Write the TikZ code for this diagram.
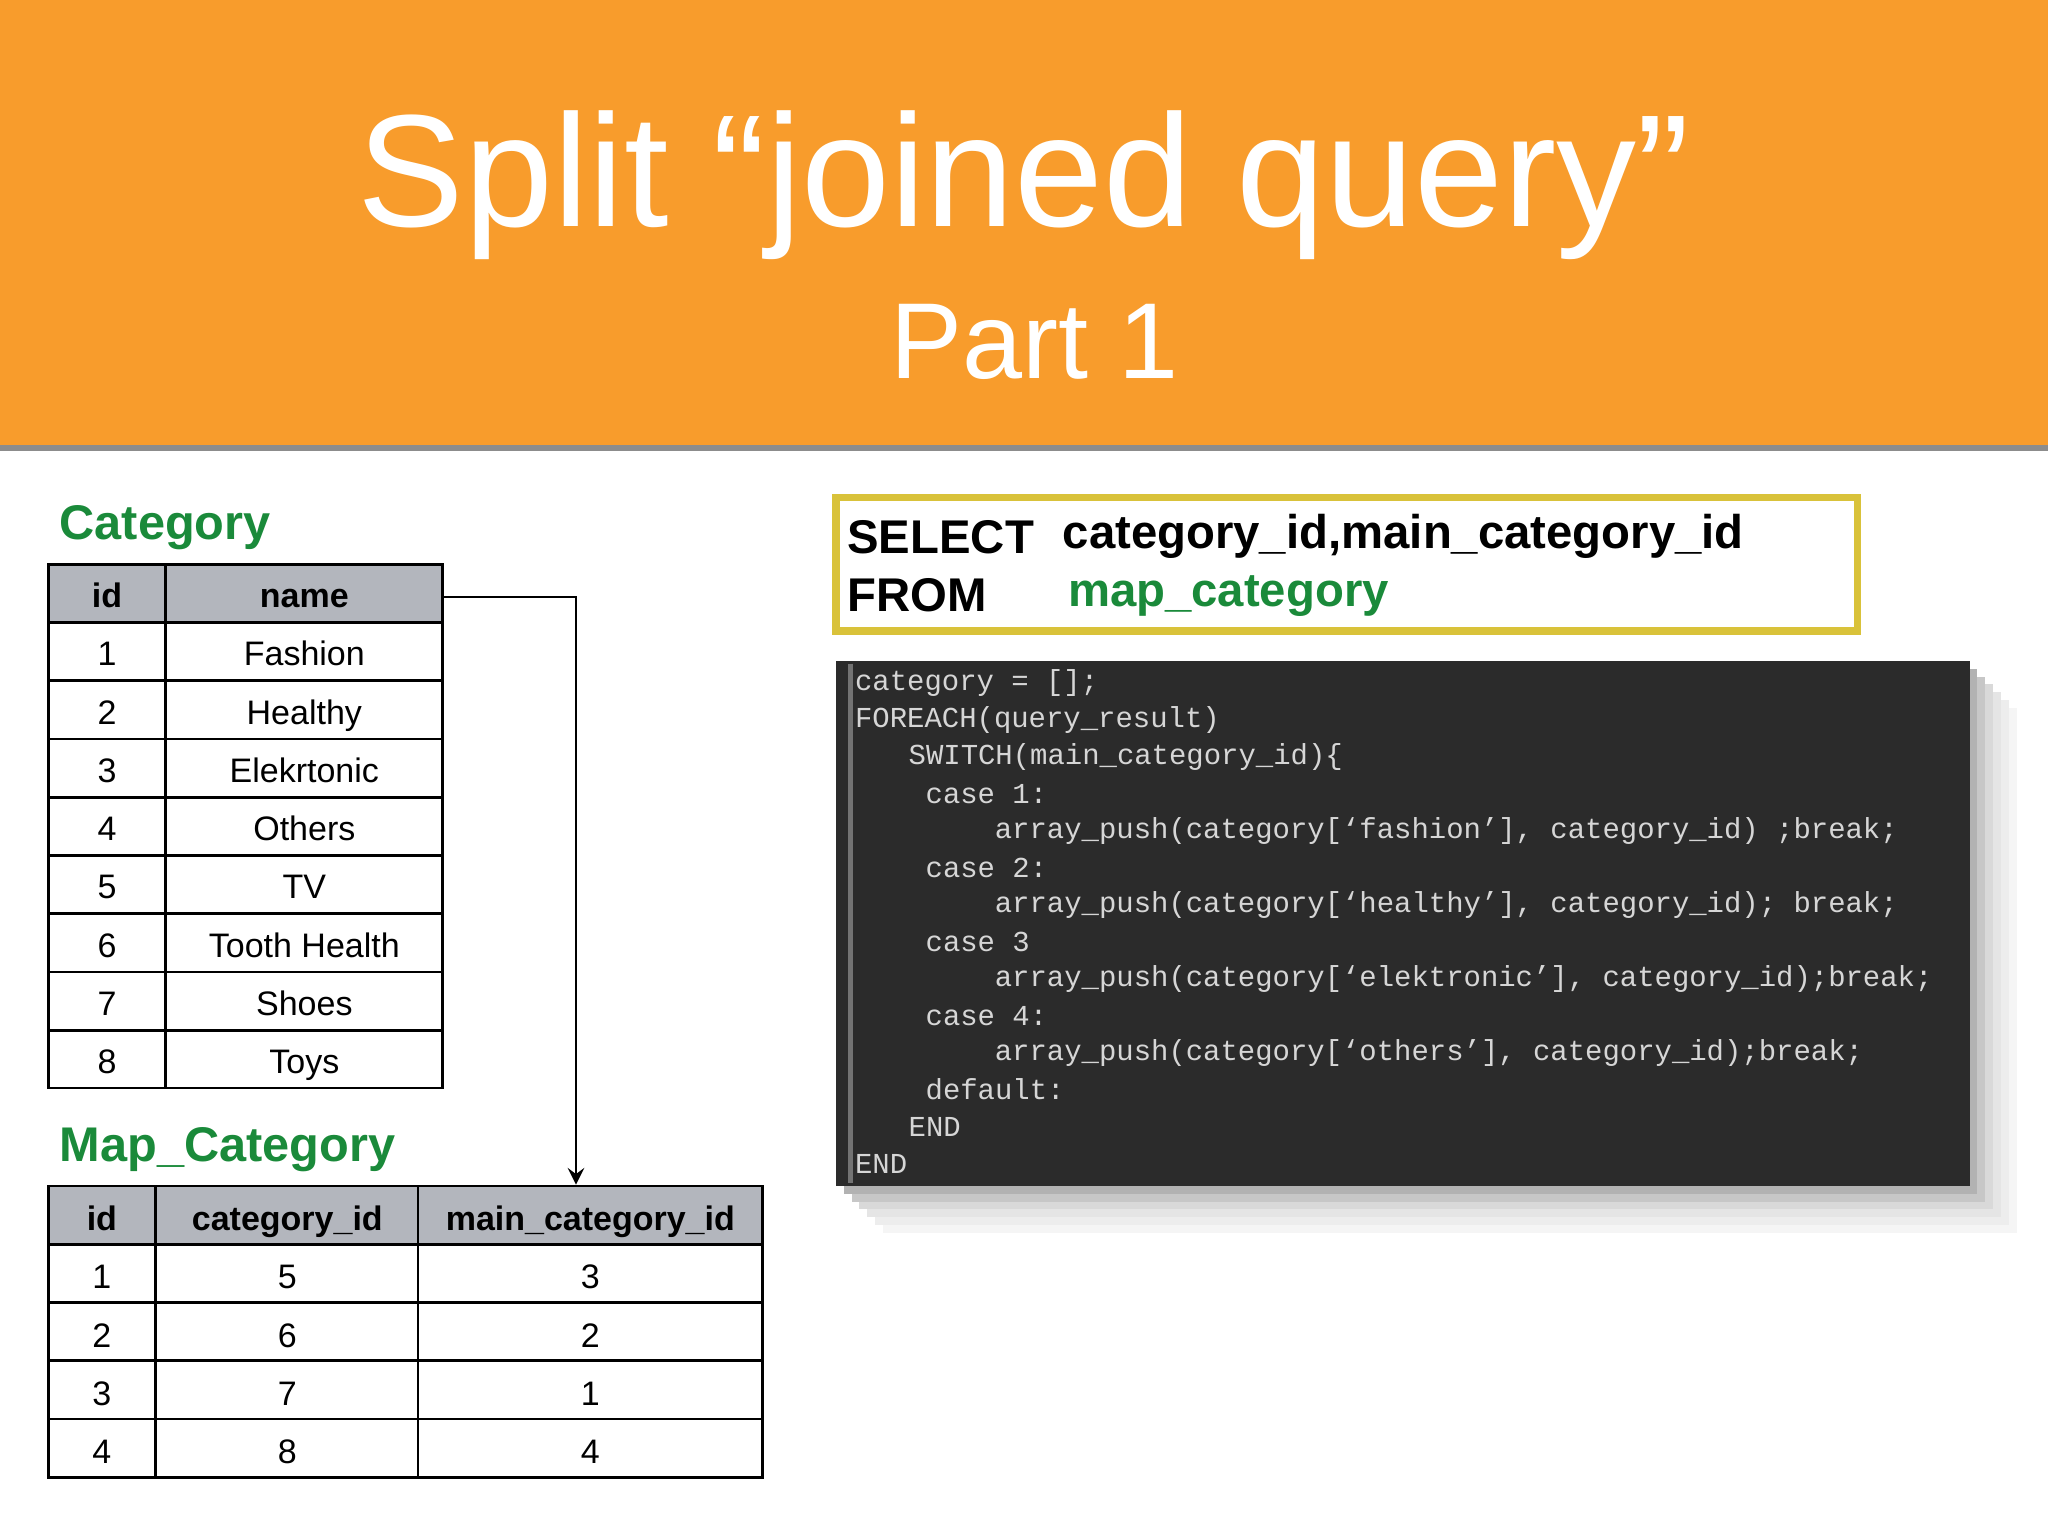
\documentclass[tikz,border=0pt]{standalone}
\usepackage{fontspec}
\setmainfont{Liberation Sans}
\setmonofont{Liberation Mono}
\definecolor{banner}{HTML}{F89C2C}
\definecolor{headgreen}{HTML}{1A8A3A}
\definecolor{headgray}{HTML}{B3B6BD}
\definecolor{sqlframe}{HTML}{D9C23A}
\definecolor{codebg}{HTML}{2B2B2B}
\definecolor{codefg}{HTML}{D6D6D6}
\tikzset{
  cell/.style={font=\fontsize{7.4pt}{8pt}\selectfont, anchor=center, text height=1.6ex, text depth=0.4ex},
  headcell/.style={cell, font=\fontsize{7.4pt}{8pt}\selectfont\bfseries},
  tabletitle/.style={anchor=west, inner sep=0pt, text=headgreen, font=\fontsize{10.6pt}{12pt}\selectfont\bfseries},
  sqltext/.style={anchor=west, inner sep=0pt, font=\fontsize{10.3pt}{12pt}\selectfont\bfseries},
  codeline/.style={anchor=west, text=codefg, inner sep=0pt, font=\fontsize{6.3pt}{7pt}\selectfont\ttfamily}
}
\begin{document}
\begin{tikzpicture}[x=0.01cm,y=-0.01cm]
        \useasboundingbox (0,0) rectangle (1568,1176);

        % Banner
        \fill[black!45] (0,338) rectangle (1568,345);
        \fill[banner] (0,0) rectangle (1568,341);
        \node[text=white, font=\fontsize{34.8pt}{38pt}\selectfont] (title) at (784,142) {Split “joined query”};
        \node[text=white, font=\fontsize{23.5pt}{26pt}\selectfont] (part) at (792,262) {Part 1};

        % Category table
        \node[tabletitle] (cattitle) at (45,404) {Category};
        \fill[headgray] (37,432) rectangle (339,476.6);
        \node[headcell] (cath1) at (82,454) {id};
        \node[headcell] (cath2) at (233,454) {name};
        \foreach \name [count=\i] in {Fashion,Healthy,Elekrtonic,Others,TV,Tooth Health,Shoes,Toys} {
            \node[cell] (cid\i) at (82,{454+44.6*\i}) {\i};
            \node[cell] (cname\i) at (233,{454+44.6*\i}) {\name};
        }
        \foreach \i in {1,...,8} \draw[semithick] (37,{432+44.6*\i}) -- (339,{432+44.6*\i});
        \draw[semithick] (37,432) rectangle (339,833) (127,432) -- (127,833);

        % Map_Category table
        \node[tabletitle] (maptitle) at (45,880) {Map\_Category};
        \fill[headgray] (37,908) rectangle (584,952.6);
        \node[headcell] (maph1) at (78,931) {id};
        \node[headcell] (maph2) at (220,931) {category\_id};
        \node[headcell] (maph3) at (452,931) {main\_category\_id};
        \foreach \c/\m [count=\i] in {5/3,6/2,7/1,8/4} {
            \node[cell] (mid\i) at (78,{931+44.6*\i}) {\i};
            \node[cell] (mcat\i) at (220,{931+44.6*\i}) {\c};
            \node[cell] (mmain\i) at (452,{931+44.6*\i}) {\m};
        }
        \foreach \i in {1,...,4} \draw[semithick] (37,{908+44.6*\i}) -- (584,{908+44.6*\i});
        \draw[semithick] (37,908) rectangle (584,1131) (119,908) -- (119,1131) (320,908) -- (320,1131);

        % Arrow between tables
        \coordinate (start) at (339,457);
        \coordinate (bend) at (441,457);
        \coordinate (maptop) at (441,907);
        \draw[semithick,-stealth] (start) -- (bend) -- (maptop);

        % SQL query
        \draw[sqlframe, line width=1.6pt] (640,381) rectangle (1422,483);
        \node[sqltext] (select) at (648,411) {SELECT};
        \node[sqltext] (cols) at (813,411) {category\_id,main\_category\_id};
        \node[sqltext] (from) at (648,456) {FROM};
        \node[sqltext, text=headgreen] (table) at (817,456) {map\_category};

        % Code block with soft shadow
        \foreach \d/\g in {36/4,30/7,24/10,18/15,12/22,6/30} \fill[black!\g] (640+\d,506+\d) rectangle (1508+\d,908+\d);
        \fill[codebg] (640,506) rectangle (1508,908);
        \draw[black!55, line width=1pt] (651,508) -- (651,906);
        \foreach \txt/\x [count=\i] in {
            {category = [];}/654,
            {FOREACH(query\_result)}/654,
            {SWITCH(main\_category\_id)\{}/695,
            {case 1:}/708,
            {array\_push(category[‘fashion’], category\_id) ;break;}/761,
            {case 2:}/708,
            {array\_push(category[‘healthy’], category\_id); break;}/761,
            {case 3}/708,
            {array\_push(category[‘elektronic’], category\_id);break;}/761,
            {case 4:}/708,
            {array\_push(category[‘others’], category\_id);break;}/761,
            {default:}/708,
            {END}/695,
            {END}/654} {
            \node[codeline] (code\i) at (\x,{523+28.3*(\i-1)}) {\txt};
        }
\end{tikzpicture}
\end{document}
